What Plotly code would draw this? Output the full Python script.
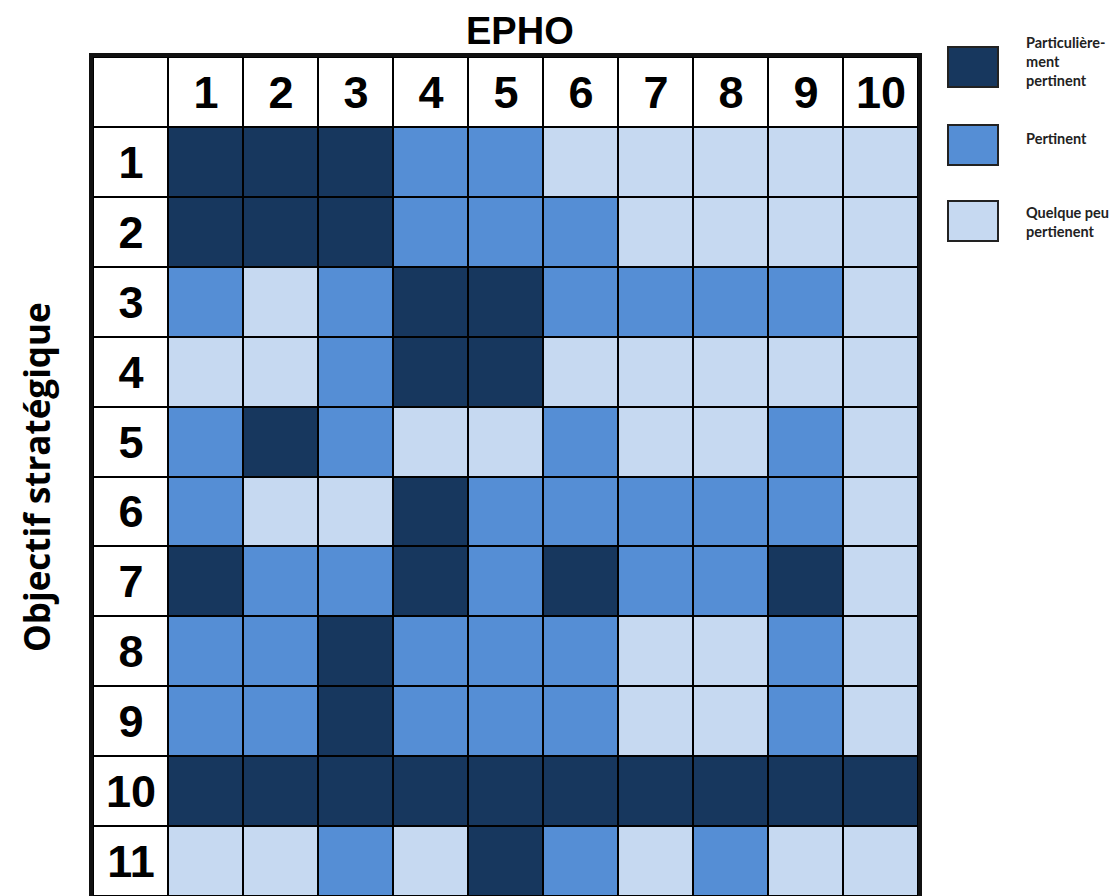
import plotly.graph_objects as go

# Data
epho_cols = [str(i) for i in range(1, 11)]
objectifs = [str(i) for i in range(1, 12)]
# 3 = Particulièrement pertinent, 2 = Pertinent, 1 = Quelque peu pertinent
relevance = [
    [3, 3, 3, 2, 2, 1, 1, 1, 1, 1],
    [3, 3, 3, 2, 2, 2, 1, 1, 1, 1],
    [2, 1, 2, 3, 3, 2, 2, 2, 2, 1],
    [1, 1, 2, 3, 3, 1, 1, 1, 1, 1],
    [2, 3, 2, 1, 1, 2, 1, 1, 2, 1],
    [2, 1, 1, 3, 2, 2, 2, 2, 2, 1],
    [3, 2, 2, 3, 2, 3, 2, 2, 3, 1],
    [2, 2, 3, 2, 2, 2, 1, 1, 2, 1],
    [2, 2, 3, 2, 2, 2, 1, 1, 2, 1],
    [3, 3, 3, 3, 3, 3, 3, 3, 3, 3],
    [1, 1, 2, 1, 3, 2, 1, 2, 1, 1],
]
legend_labels = ["Particulière-<br>ment<br>pertinent", "Pertinent", "Quelque peu<br>pertienent"]

DARK = "#17375E"
MED = "#558ED5"
LIGHT = "#C6D9F1"

# Build full grid including header row/column (0 = white header cell)
z = [[0] + [0] * len(epho_cols)]
text = [[""] + epho_cols]
for i, row in enumerate(relevance):
    z.append([0] + row)
    text.append([objectifs[i]] + [""] * len(row))

fig = go.Figure(go.Heatmap(
    z=z,
    x=list(range(len(epho_cols) + 1)),
    y=list(range(len(objectifs) + 1)),
    text=text,
    texttemplate="<b>%{text}</b>",
    textfont=dict(family="Liberation Sans", size=45, color="black"),
    colorscale=[[0, "white"], [1/3, LIGHT], [2/3, MED], [1, DARK]],
    zmin=0, zmax=3,
    xgap=2, ygap=2,
    showscale=False,
    hoverinfo="skip",
))

OFF = 8  # page body margin
W, H = 1119 - OFF, 896 - OFF
# plot area in reference (page) pixel coordinates
X0, X1, Y0, Y1 = 93, 918, 57, 896
L, R, T, B = X0 - OFF, W - (X1 - OFF), Y0 - OFF, H - (Y1 - OFF)
pw, ph = X1 - X0, Y1 - Y0

def px(x):
    return (x - X0) / pw

def py(y):
    return 1 - (y - Y0) / ph

fig.update_layout(
    width=W, height=H,
    margin=dict(l=L, r=R, t=T, b=B),
    plot_bgcolor="black",
    paper_bgcolor="white",
    xaxis=dict(range=[-0.5, 10.5], showticklabels=False, showgrid=False, zeroline=False,
               showline=True, mirror=True, linewidth=4, linecolor="#111", ticks=""),
    yaxis=dict(range=[11.5, -0.5], showticklabels=False, showgrid=False, zeroline=False,
               showline=True, mirror=True, linewidth=4, linecolor="#111", ticks=""),
)

annotations = [
    dict(text="<b>EPHO</b>", x=px(520), y=py(31), xref="paper", yref="paper",
         showarrow=False, font=dict(family="Liberation Sans", size=38, color="black"),
         xanchor="center", yanchor="middle"),
    dict(text="<b>Objectif stratégique</b>", x=px(36), y=py(477), xref="paper", yref="paper",
         showarrow=False, textangle=-90, font=dict(family="Open Sans", size=35, color="black"),
         xanchor="center", yanchor="middle"),
]
shapes = []
legend_colors = [DARK, MED, LIGHT]
box_tops = [47, 125, 201]
text_y = [61, 138, 222]
for c, top, lab, ty in zip(legend_colors, box_tops, legend_labels, text_y):
    shapes.append(dict(type="rect", xref="paper", yref="paper",
                       x0=px(948), x1=px(998), y0=py(top), y1=py(top + 40),
                       fillcolor=c, line=dict(color="#222", width=2)))
    annotations.append(dict(text="<b>" + lab + "</b>", x=px(1024), y=py(ty), xref="paper", yref="paper",
                            showarrow=False, align="left", xanchor="left", yanchor="middle",
                            font=dict(family="Lato", size=14.5, color="#222")))
fig.update_layout(annotations=annotations, shapes=shapes)

fig.write_html("out.html")
